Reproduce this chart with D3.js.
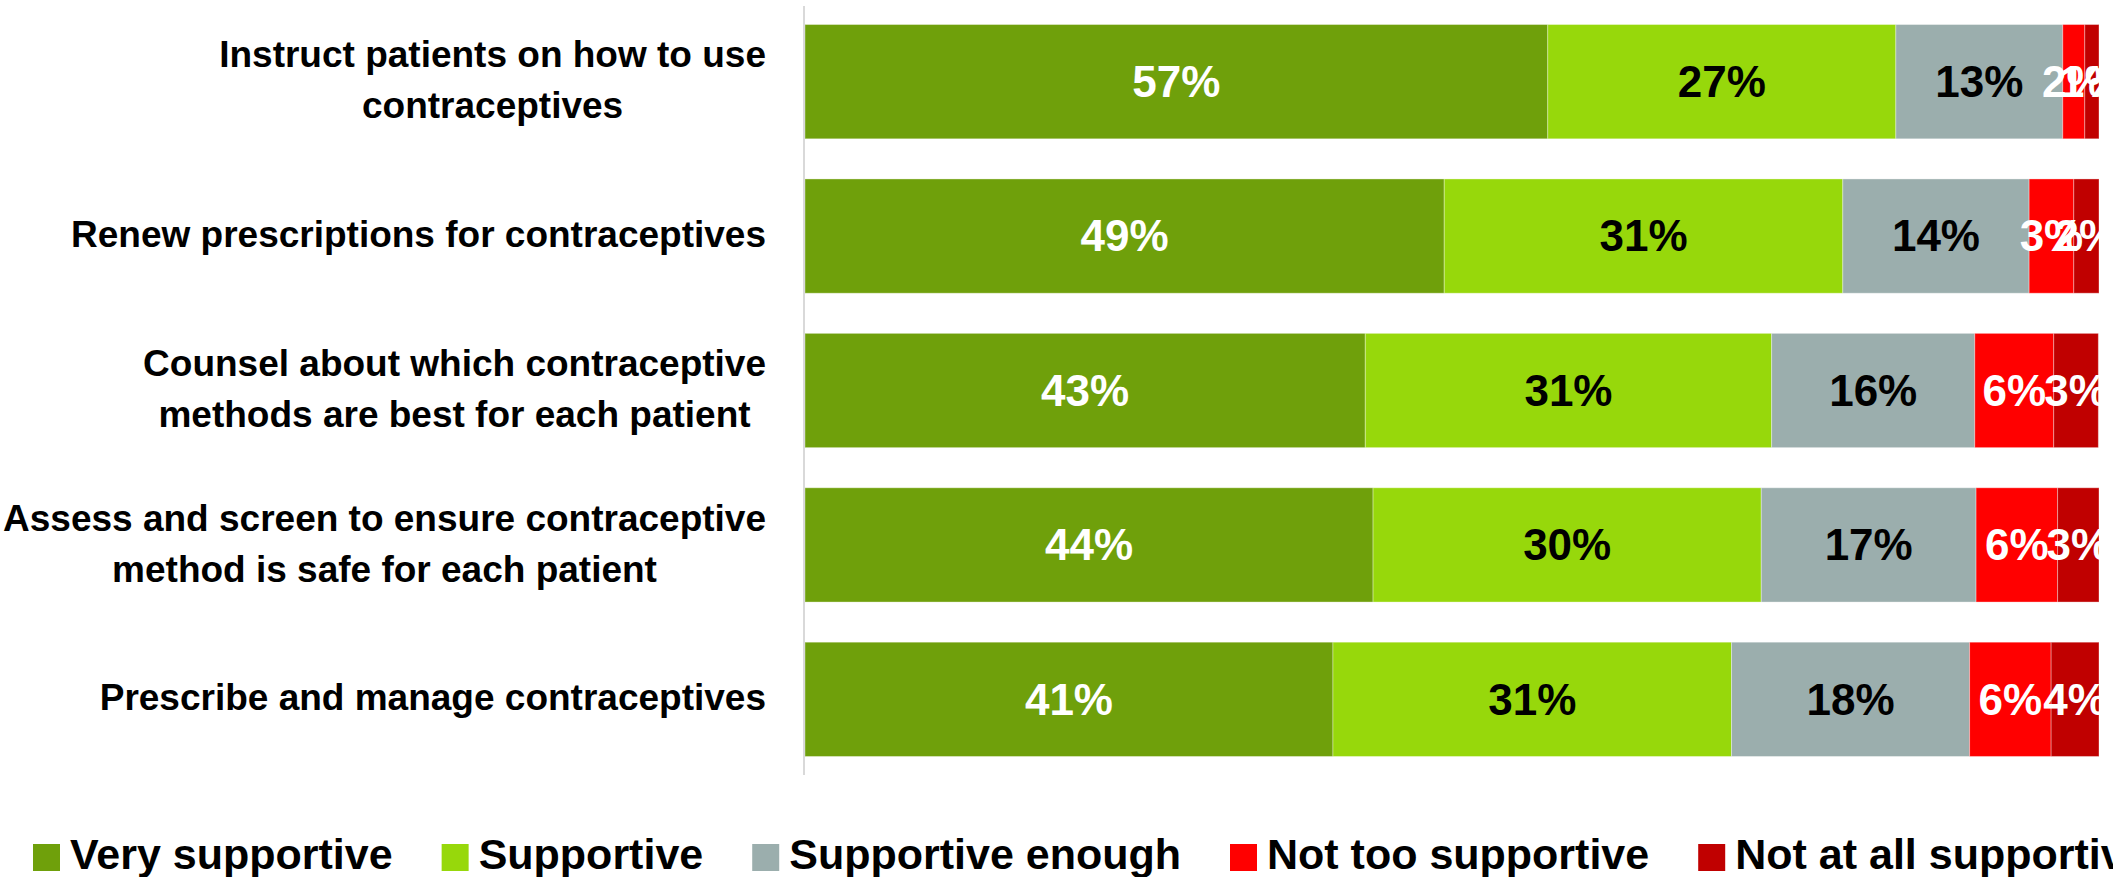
<!DOCTYPE html>
<html lang="en">
<head>
    <meta charset="UTF-8">
    <title>Support for contraceptive tasks</title>
    <script src="https://d3js.org/d3.v7.min.js"></script>
    <style>
        body {
            margin: 0;
            padding: 0;
            background: #fff;
        }
        svg text {
            font-family: "Liberation Sans", Arial, sans-serif;
            font-weight: bold;
        }
    </style>
</head>
<body>
    <svg id="chart" width="2113" height="877"></svg>
    <script>
        // Data (percent of respondents)
        const categories = [
            ["Instruct patients on how to use", "contraceptives"],
            ["Renew prescriptions for contraceptives"],
            ["Counsel about which contraceptive", "methods are best for each patient"],
            ["Assess and screen to ensure contraceptive", "method is safe for each patient"],
            ["Prescribe and manage contraceptives"]
        ];
        const series = ["Very supportive", "Supportive", "Supportive enough", "Not too supportive", "Not at all supportive"];
        const verySupportive = [57.4, 49.4, 43.3, 43.9, 40.8];
        const supportive = [26.9, 30.8, 31.4, 30.0, 30.8];
        const supportiveEnough = [12.9, 14.4, 15.7, 16.6, 18.4];
        const notTooSupportive = [1.7, 3.45, 6.1, 6.3, 6.3];
        const notAtAllSupportive = [1.1, 1.95, 3.45, 3.2, 3.7];

        const colors = ["#6fa00b", "#97d80b", "#9baead", "#ff0000", "#c00000"];
        const labelColors = ["#fff", "#000", "#000", "#fff", "#fff"];

        const values = [verySupportive, supportive, supportiveEnough, notTooSupportive, notAtAllSupportive];
        const rows = categories.map((c, i) => {
            const row = { idx: i };
            series.forEach((s, j) => row[s] = values[j][i]);
            return row;
        });

        const svg = d3.select('#chart');
        const plot = { left: 805, right: 2099, top: 6, bottom: 775 };

        const x = d3.scaleLinear().domain([0, 100]).range([plot.left, plot.right]);
        const y = d3.scaleBand()
            .domain(d3.range(categories.length))
            .range([plot.top, plot.bottom])
            .paddingInner(0.26)
            .paddingOuter(0.12);

        const stacked = d3.stack().keys(series)(rows);

        // bars
        const layers = svg.append('g')
            .selectAll('g')
            .data(stacked)
            .join('g')
            .attr('fill', (d, i) => colors[i]);

        layers.selectAll('rect')
            .data(d => d)
            .join('rect')
            .attr('x', d => x(d[0]))
            .attr('y', d => y(d.data.idx))
            .attr('width', d => x(d[1]) - x(d[0]))
            .attr('height', y.bandwidth())
            .attr('stroke', '#fff')
            .attr('stroke-opacity', 0.35)
            .attr('stroke-width', 1);

        // vertical axis line
        svg.append('line')
            .attr('x1', plot.left - 1).attr('x2', plot.left - 1)
            .attr('y1', plot.top).attr('y2', plot.bottom)
            .attr('stroke', '#d9d9d9')
            .attr('stroke-width', 2);

        // data labels, clipped to the plot area
        svg.append('clipPath').attr('id', 'plot-clip')
            .append('rect')
            .attr('x', plot.left).attr('y', 0)
            .attr('width', plot.right - plot.left).attr('height', plot.bottom);

        const labels = svg.append('g').attr('clip-path', 'url(#plot-clip)');
        stacked.forEach((layer, i) => {
            labels.append('g')
                .selectAll('text')
                .data(layer)
                .join('text')
                .attr('x', d => (x(d[0]) + x(d[1])) / 2)
                .attr('y', d => y(d.data.idx) + y.bandwidth() / 2)
                .attr('dy', '0.35em')
                .attr('text-anchor', 'middle')
                .attr('font-size', 44)
                .attr('fill', labelColors[i])
                .text(d => Math.round(d[1] - d[0]) + '%');
        });

        // category labels: lines centred on each other, block right-aligned
        const labelRight = 766;
        const lineHeight = 51;
        categories.forEach((lines, i) => {
            const cy = y(i) + y.bandwidth() / 2;
            const t = svg.append('text')
                .attr('font-size', 37)
                .attr('text-anchor', 'middle');
            const spans = lines.map((line, k) => t.append('tspan')
                .attr('y', cy + (k - (lines.length - 1) / 2) * lineHeight)
                .attr('dy', '0.3em')
                .text(line));
            const maxW = d3.max(spans, s => s.node().getComputedTextLength());
            spans.forEach(s => s.attr('x', labelRight - maxW / 2));
        });

        // legend
        const legend = svg.append('g');
        let lx = 33;
        series.forEach((s, i) => {
            legend.append('rect')
                .attr('x', lx).attr('y', 844)
                .attr('width', 27).attr('height', 27)
                .attr('fill', colors[i]);
            const txt = legend.append('text')
                .attr('x', lx + 37).attr('y', 869)
                .attr('font-size', 43)
                .attr('fill', '#000')
                .text(s);
            lx += 37 + txt.node().getComputedTextLength() + 49;
        });
    </script>
</body>
</html>
